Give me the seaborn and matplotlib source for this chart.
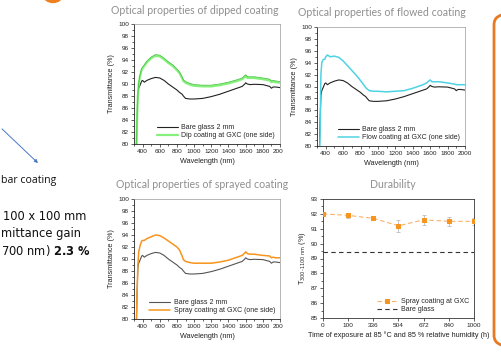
import numpy as np
import pandas as pd
import matplotlib
matplotlib.use("Agg")
import matplotlib.pyplot as plt
import matplotlib.transforms as mtransforms
from matplotlib.patches import FancyBboxPatch, Circle, FancyArrowPatch
from matplotlib.ticker import MultipleLocator
import seaborn as sns

sns.set_theme(style="white")
plt.rcParams['font.family'] = ['Liberation Sans', 'DejaVu Sans']

# ---------------- data ----------------
wavelength = [300, 320, 335, 345, 355, 370, 390, 400, 420, 450, 500, 550, 600, 650, 700, 750, 800, 830,
              860, 875, 900, 950, 1000, 1100, 1200, 1300, 1400, 1500, 1560, 1590, 1600, 1620, 1650, 1700,
              1800, 1880, 1900, 1920, 1950, 2000]
bare_glass = [70, 75, 84, 88.5, 89.3, 89.8, 90.5, 90.6, 90.3, 90.6, 90.9, 91.1, 91.0, 90.6, 90.0, 89.5, 89.0, 88.6,
              88.3, 88.0, 87.6, 87.5, 87.5, 87.6, 87.9, 88.3, 88.8, 89.3, 89.6, 90.0, 90.2, 90.0, 89.9, 89.95,
              89.9, 89.6, 89.3, 89.5, 89.5, 89.4]
dip_coating = [60, 72, 84, 88, 90, 91.3, 92.4, 92.6, 93.0, 93.6, 94.3, 94.7, 94.6, 94.1, 93.5, 93.0, 92.3, 91.8,
               91.0, 90.5, 90.2, 89.9, 89.7, 89.6, 89.6, 89.8, 90.1, 90.5, 90.8, 91.2, 91.35, 91.0, 91.0, 91.0,
               90.8, 90.6, 90.3, 90.4, 90.3, 90.2]
flow_coating = [60, 72, 82, 92, 94.0, 94.5, 94.6, 95.0, 95.3, 95.0, 95.1, 94.9, 94.3, 93.5, 92.7, 91.9, 91.0, 90.4,
                89.8, 89.6, 89.3, 89.2, 89.2, 89.1, 89.2, 89.3, 89.7, 90.2, 90.6, 91.0, 91.1, 90.8, 90.8, 90.8,
                90.6, 90.4, 90.3, 90.3, 90.3, 90.3]
spray_coating = [60, 72, 84, 89, 91.2, 92.2, 93.0, 93.1, 93.1, 93.4, 93.7, 94.0, 93.9, 93.5, 93.0, 92.5, 92.0, 91.5,
                 90.5, 89.9, 89.6, 89.4, 89.3, 89.3, 89.3, 89.5, 89.8, 90.3, 90.6, 91.0, 91.2, 90.9, 90.8, 90.8,
                 90.6, 90.5, 90.2, 90.3, 90.2, 90.2]

exposure_labels = ["0", "100", "336", "504", "672", "840", "1000"]
durability_T = [92.0, 91.9, 91.7, 91.2, 91.6, 91.5, 91.5]
durability_err = [0.05, 0.15, 0.05, 0.4, 0.35, 0.3, 0.25]
bare_glass_T = 89.45

titles = ["Optical properties of dipped coating", "Optical properties of flowed coating",
          "Optical properties of sprayed coating", "Durability"]

# ---------------- figure ----------------
W, H = 502, 360
fig = plt.figure(figsize=(W / 100, H / 100), dpi=100)
fig.patch.set_facecolor("white")

def fx(x):
    return x / W

def fy(y):
    return 1 - y / H

def add_ax(l, t, r, b):
    return fig.add_axes([fx(l), fy(b), (r - l) / W, (b - t) / H])

TICK_FS = 4.6
LAB_FS = 5.2
TITLE_COL = "#8f8f8f"

def style_spectrum(ax):
    ax.set_xlim(300, 2000)
    ax.set_ylim(80, 100)
    ax.xaxis.set_major_locator(MultipleLocator(200))
    ax.xaxis.set_minor_locator(MultipleLocator(100))
    ax.yaxis.set_major_locator(MultipleLocator(2))
    ax.yaxis.set_minor_locator(MultipleLocator(1))
    ax.set_xticks(range(400, 2001, 200))
    ax.tick_params(which="both", direction="out", width=0.5, colors="#222222", labelsize=TICK_FS, pad=1.5)
    ax.tick_params(which="major", length=2.2)
    ax.tick_params(which="minor", length=1.2)
    ax.tick_params(axis="both", which="both", bottom=True, left=True)
    for s in ["left", "bottom"]:
        ax.spines[s].set_color("#222222")
        ax.spines[s].set_linewidth(0.6)
    for s in ["top", "right"]:
        ax.spines[s].set_color("#9a9a9a")
        ax.spines[s].set_linewidth(0.5)
    ax.set_xlabel("Wavelength (nm)", fontsize=LAB_FS, labelpad=2.5, color="#222222")
    ax.set_ylabel("Transmittance (%)", fontsize=LAB_FS, labelpad=2, color="#222222")
    ax.grid(False)

def spectrum_panel(ax, coating, label, color, bare_color="#222222", bare_label="Bare glass 2 mm", halo=None):
    df = pd.DataFrame({"wl": wavelength, "bare": bare_glass, "coat": coating})
    sns.lineplot(data=df, x="wl", y="bare", ax=ax, color=bare_color, lw=0.8, label=bare_label, sort=False)
    sns.lineplot(data=df, x="wl", y="coat", ax=ax, color=color, lw=1.1 if halo is None else 1.6,
                 label=label, sort=False)
    if halo is not None:
        tr = mtransforms.offset_copy(ax.transData, fig=fig, x=0, y=0.9, units="points")
        ax.plot(wavelength, coating, color=halo, lw=0.5, transform=tr)
    style_spectrum(ax)
    leg = ax.legend(loc="lower right", fontsize=5.0, frameon=False, handlelength=3.0,
                    borderaxespad=0.3, labelspacing=0.15, handletextpad=0.5)
    return leg

ax1 = add_ax(134, 24, 280, 144)
spectrum_panel(ax1, dip_coating, "Dip coating at GXC (one side)", "#86f07c", halo="#3fbf3a")
ax2 = add_ax(317, 27, 465, 146)
spectrum_panel(ax2, flow_coating, "Flow coating at GXC (one side)", "#4fd3e3")
ax3 = add_ax(134, 199, 280, 319)
spectrum_panel(ax3, spray_coating, "Spray coating at GXC (one side)", "#f7941d", bare_color="#555555")

# clip the overflowing last x label as in the source slide
clip_left = mtransforms.TransformedBbox(mtransforms.Bbox.from_extents(0, 0, fx(283), 1), fig.transFigure)
for ax in (ax1, ax3):
    for lab in ax.get_xticklabels():
        lab.set_clip_on(True)
        lab.set_clip_box(clip_left)

# durability panel
ax4 = add_ax(323, 199, 474, 318)
dfd = pd.DataFrame({"t": list(range(len(exposure_labels))), "T": durability_T})
ax4.errorbar(dfd["t"], dfd["T"], yerr=durability_err, fmt="none", ecolor="#bdbdbd", elinewidth=0.6,
             capsize=1.5, capthick=0.6, zorder=2)
sns.lineplot(data=dfd, x="t", y="T", ax=ax4, color="#fbb06a", lw=0.8, linestyle=(0, (4, 2.5)),
             marker="s", markersize=3.2, markerfacecolor="#f7941d", markeredgecolor="#f7941d",
             label="Spray coating at GXC", zorder=3)
ax4.axhline(bare_glass_T, color="#333333", lw=0.8, linestyle=(0, (4, 3)), label="Bare glass")
ax4.set_xlim(0, 6)
ax4.set_ylim(85, 93)
ax4.set_xticks(range(len(exposure_labels)))
ax4.set_xticklabels(exposure_labels)
ax4.yaxis.set_major_locator(MultipleLocator(1))
ax4.yaxis.set_minor_locator(MultipleLocator(0.5))
ax4.tick_params(which="both", direction="out", width=0.5, colors="#222222", labelsize=TICK_FS, pad=1.5)
ax4.tick_params(which="major", length=2.2)
ax4.tick_params(which="minor", length=1.2)
ax4.tick_params(axis="both", which="both", bottom=True, left=True)
for s in ax4.spines.values():
    s.set_color("#333333")
    s.set_linewidth(0.6)
ax4.grid(False)
ax4.set_xlabel("Time of exposure at 85 \u00b0C and 85 % relative humidity (h)", fontsize=LAB_FS,
               labelpad=2.5, color="#222222")
ax4.set_ylabel(r"T$_{300\text{-}1100\ \mathrm{nm}}$ (%)", fontsize=LAB_FS, labelpad=2, color="#222222")
ax4.legend(loc="lower right", fontsize=5.0, frameon=False, handlelength=3.0, borderaxespad=0.3,
           labelspacing=0.15, handletextpad=0.5)

# titles
title_font = dict(color=TITLE_COL, fontsize=7.6, family=["Lato", "DejaVu Sans"], ha="center", va="center")
fig.text(fx(195), fy(11), titles[0], **title_font)
fig.text(fx(382), fy(12), titles[1], **title_font)
t3 = fig.text(fx(202), fy(184), titles[2], **title_font)
t3.set_clip_on(True)
t3.set_clip_box(mtransforms.TransformedBbox(mtransforms.Bbox.from_extents(0, 0, fx(290), 1), fig.transFigure))
fig.text(fx(393), fy(185), titles[3], **title_font)

# slide decorations
circ = Circle((fx(53), fy(-4)), radius=9 / W, transform=fig.transFigure, color="#f07f1e", zorder=0)
fig.patches.append(circ)
arrow = FancyArrowPatch((fx(0), fy(127)), (fx(40), fy(165)), transform=fig.transFigure,
                        arrowstyle="-|>", mutation_scale=5, color="#4a78c8", lw=0.7)
fig.patches.append(arrow)
box = FancyBboxPatch((fx(494), fy(346)), (530 - 494) / W, (346 - 14) / H,
                     boxstyle="round,pad=0,rounding_size=0.03", transform=fig.transFigure,
                     facecolor="white", edgecolor="#e87a24", lw=2.0)
fig.patches.append(box)

fig.text(fx(1), fy(180), "bar coating", fontsize=7.6, family=["Open Sans", "DejaVu Sans"],
         color="#111111", ha="left", va="center")
side_font = dict(family=["DejaVu Sans"], color="#111111", ha="left", va="center", fontsize=8.3)
fig.text(fx(3), fy(216), "100 x 100 mm", **side_font)
fig.text(fx(1), fy(234), "mittance gain", **side_font)
fig.text(fx(1), fy(251), "700 nm) $\\mathbf{2.3\\ \\%}$", **side_font)

fig.savefig("out.png", dpi=100, facecolor="white")
